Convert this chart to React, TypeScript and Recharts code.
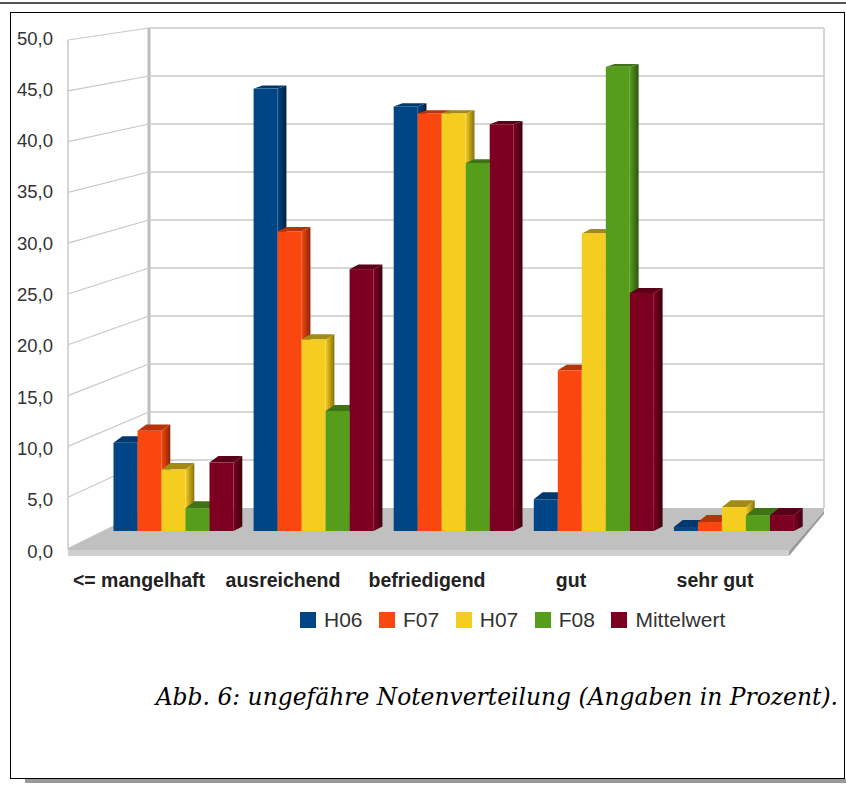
import React from "react";
import { BarChart, Bar, XAxis, YAxis, Legend, ReferenceLine } from "recharts";

const categories = ["<= mangelhaft", "ausreichend", "befriedigend", "gut", "sehr gut"];
const h06 = [8.9, 44.6, 42.8, 3.2, 0.4];
const f07 = [10.1, 30.2, 42.1, 16.2, 0.9];
const h07 = [6.2, 19.3, 42.1, 30.0, 2.4];
const f08 = [2.3, 12.1, 37.1, 46.8, 1.6];
const mittelwert = [6.9, 26.4, 41.0, 24.0, 1.6];
const yTicks = [0, 5, 10, 15, 20, 25, 30, 35, 40, 45, 50];
const caption = "Abb. 6: ungefähre Notenverteilung (Angaben in Prozent).";

const seriesList = [
  { key: "H06", fill: "#004586", dark: "#00213f", top: "#00396e" },
  { key: "F07", fill: "#f9470f", dark: "#8a2606", top: "#b83308" },
  { key: "H07", fill: "#f5cd20", dark: "#86700f", top: "#a38a12" },
  { key: "F08", fill: "#579d1c", dark: "#2e540e", top: "#3f7314" },
  { key: "Mittelwert", fill: "#7e0021", dark: "#3e0010", top: "#5a0018" },
];

const data = categories.map((c, i) => ({
  name: c,
  H06: h06[i],
  F07: f07[i],
  H07: h07[i],
  F08: f08[i],
  Mittelwert: mittelwert[i],
}));

const makeBarShape = (s: (typeof seriesList)[number]) => (p: any) => {
  const { x, y, width, height } = p;
  const dx = 8.8;
  const dy = 3 + (y - 90) * 0.0095;
  const base = y + height;
  const by = base - 4.5;
  const gid = `side-${s.key}`;
  return (
    <g>
      <defs>
        <linearGradient id={gid} x1="0" y1="0" x2="1" y2="0">
          <stop offset="0" stopColor={s.fill} />
          <stop offset="1" stopColor={s.dark} />
        </linearGradient>
      </defs>
      <polygon
        points={`${x + width},${y} ${x + width + dx},${y - dy} ${x + width + dx},${by} ${x + width},${base}`}
        fill={`url(#${gid})`}
      />
      <polygon
        points={`${x},${y} ${x + dx},${y - dy} ${x + width + dx},${y - dy} ${x + width},${y}`}
        fill={s.top}
      />
      <rect x={x} y={y} width={width} height={height} fill={s.fill} />
    </g>
  );
};

const WALL = "#c8c8c8";
const wallLine = (t: number) => (p: any) => {
  const y = p.y1;
  const frontY = 548 - 10.16 * t;
  const backLeft = 149;
  const right = 824;
  const frontLeft = 68;
  return (
    <g>
      {t === 0 && (
        <>
          <line x1={frontLeft} x2={frontLeft} y1={40} y2={549} stroke={WALL} strokeWidth={1.5} />
          <line x1={backLeft} x2={backLeft} y1={y - 480} y2={y} stroke="#bdbdbd" strokeWidth={3} />
          <line x1={right} x2={right} y1={y - 480} y2={y} stroke={WALL} strokeWidth={1.5} />
          <polygon points={`${frontLeft},${frontY} ${backLeft},${y} ${right},${y} ${right},${y + 3} 789,551 ${frontLeft},551`} fill="#c0c0c0" />
          <polygon points={`789,551 ${right},${y + 3} ${right},${y + 6} 789,556`} fill="#9c9c9c" />
          <rect x={frontLeft} y={550} width={721} height={6} fill="#cfcfcf" />
        </>
      )}
      {t > 0 && (
        <>
          <line x1={frontLeft} y1={frontY} x2={backLeft} y2={y} stroke={WALL} strokeWidth={1.2} />
          <line x1={backLeft} y1={y} x2={right} y2={y} stroke={WALL} strokeWidth={1.5} />
        </>
      )}
    </g>
  );
};

const LegendContent = ({ payload }: any) => (
  <div style={{ display: "flex", fontFamily: "'Liberation Sans', sans-serif", fontSize: 21, color: "#333", height: 24, alignItems: "center" }}>
    {(payload || []).map((e: any) => (
      <div key={e.value} style={{ display: "flex", alignItems: "center", marginRight: 16.5 }}>
        <span style={{ width: 16, height: 16, background: e.color, marginRight: 8, display: "inline-block" }} />
        <span>{e.value}</span>
      </div>
    ))}
  </div>
);

export default function App() {
  return (
    <div style={{ position: "absolute", left: 0, top: 0, width: 846, height: 785, background: "#fff", overflow: "hidden" }}>
      <div style={{ position: "absolute", left: 0, top: 2, width: 846, height: 2, background: "#555" }} />
      <div style={{ position: "absolute", left: 10, top: 12, width: 835, height: 767, border: "1px solid #000", boxSizing: "border-box" }} />
      <div style={{ position: "absolute", left: 25, top: 779, width: 821, height: 4, background: "#999" }} />
      <div style={{ position: "absolute", left: 0, top: 0 }}>
        <BarChart
          width={846}
          height={785}
          data={data}
          barGap={0}
          barCategoryGap={11}
          margin={{ top: 38, right: 43, left: 0, bottom: 180 }}
        >
          <XAxis xAxisId="bars" dataKey="name" hide height={0} padding={{ left: 35.5, right: 0 }} />
          <XAxis
            xAxisId="labels"
            dataKey="name"
            height={30}
            axisLine={false}
            tickLine={false}
            tickSize={0}
            tickMargin={22}
            padding={{ left: 0, right: 16 }}
            interval={0}
            tick={{ fontFamily: "'Liberation Sans', sans-serif", fontWeight: 700, fontSize: 19.5, fill: "#222" }}
          />
          <YAxis
            yAxisId="labels"
            width={67}
            domain={[0, 50]}
            ticks={yTicks}
            interval={0}
            allowDataOverflow
            axisLine={false}
            tickLine={false}
            tickSize={0}
            tickMargin={14}
            tickFormatter={(v: number) => v.toFixed(1).replace(".", ",")}
            tick={{ fontFamily: "'Liberation Sans', sans-serif", fontSize: 18.5, fill: "#333" }}
          />
          <YAxis yAxisId="bars" hide width={0} domain={[-2.016, 49.7]} allowDataOverflow />
          <YAxis yAxisId="back" hide width={0} domain={[-4.479, 48.958]} allowDataOverflow />
          {yTicks.map((t) => (
            <ReferenceLine
              key={t}
              xAxisId="labels"
              yAxisId="back"
              y={t}
              ifOverflow="visible"
              zIndex={-200}
              shape={wallLine(t)}
            />
          ))}
          {seriesList.map((s) => (
            <Bar
              key={s.key}
              dataKey={s.key}
              xAxisId="bars"
              yAxisId="bars"
              fill={s.fill}
              isAnimationActive={false}
              shape={makeBarShape(s)}
            />
          ))}
          <Legend
            content={<LegendContent />}
            itemSorter={null}
            wrapperStyle={{ position: "absolute", left: 300, top: 608, width: 500 }}
          />
        </BarChart>
      </div>
      <div style={{ position: "absolute", left: 100, width: 738, top: 683, textAlign: "right", fontFamily: "'DejaVu Serif', serif", fontStyle: "italic", fontSize: 23.4, color: "#000", whiteSpace: "nowrap" }}>
        {caption}
      </div>
    </div>
  );
}
